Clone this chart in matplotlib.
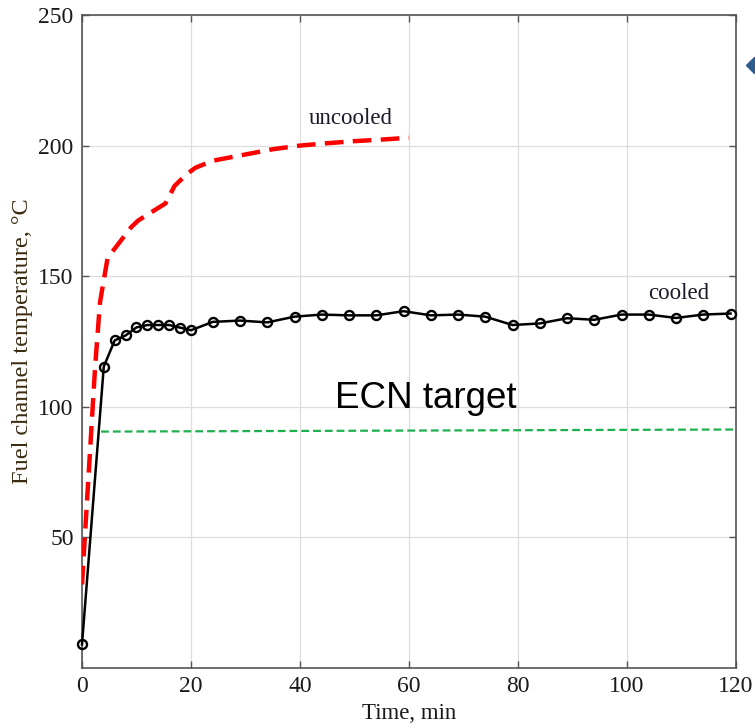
import matplotlib
matplotlib.use("Agg")
import matplotlib.pyplot as plt

# ── Data ────────────────────────────────────────────────────
cooled_t = [0, 4, 6, 8, 10, 12, 14, 16, 18, 20, 24, 29, 34, 39, 44, 49, 54, 59,
            64, 69, 74, 79, 84, 89, 94, 99, 104, 109, 114, 119]
cooled_T = [9, 115.4, 125.4, 127.3, 130.4, 131.3, 131.3, 131.3, 130.3, 129.3,
            132.5, 133.0, 132.3, 134.5, 135.3, 135.0, 135.0, 136.6, 135.0, 135.3,
            134.5, 131.3, 131.9, 133.9, 133.3, 135.3, 135.3, 134.0, 135.3, 135.7]

uncooled_t = [0, 2.4, 3.3, 4.7, 9, 10.3, 14.5, 15.3, 17, 19.2, 20.8, 24, 30,
              35, 40, 45, 50, 55, 60]
uncooled_T = [32, 115, 140, 157, 168.7, 171.3, 176.8, 177.8, 184.6, 189, 191.5,
              194.2, 196.6, 198.6, 200, 200.9, 201.7, 202.3, 203]

target_t = [3.5, 120]
target_T = [90.5, 91.3]

xticks = [0, 20, 40, 60, 80, 100, 120]
yticks = [50, 100, 150, 200, 250]

SERIF = ["Liberation Serif", "DejaVu Serif"]

fig = plt.figure(figsize=(7.55, 7.27), dpi=100, facecolor="white")
ax = fig.add_axes([0.1086, 0.0812, 0.8662, 0.8982])

ax.plot(uncooled_t, uncooled_T, color="#ff0000", lw=3.2, ls=(0, (4.2, 2.1)),
        solid_capstyle="butt", zorder=3)
ax.plot(cooled_t, cooled_T, color="black", lw=1.8, marker="o", ms=6.5,
        mfc="none", mec="black", mew=1.7, zorder=4, clip_on=False)
ax.plot(target_t, target_T, color="#1db04f", lw=1.6, ls=(0, (3.5, 1.8)), zorder=3)

ax.text(49.4, 210.5, "uncooled", family=SERIF, fontsize=16.5,
        color="#1a1a2a", ha="center", va="center")
ax.text(109.5, 143.5, "cooled", family=SERIF, fontsize=16.5,
        color="#1a1a2a", ha="center", va="center")
ax.text(63, 103, "ECN target", family=["Liberation Sans", "DejaVu Sans"],
        fontsize=26.5, color="black", ha="center", va="center")

ax.set_xlim(0, 120)
ax.set_ylim(0, 250)
ax.set_xticks(xticks)
ax.set_yticks(yticks)
ax.tick_params(direction="in", top=True, right=True, length=5, width=1,
               color="#555555", labelsize=17, pad=6)
for lab in ax.get_xticklabels() + ax.get_yticklabels():
    lab.set_family(SERIF)
    lab.set_color("#1a1a1a")
ax.grid(True, color="#dddddd", lw=0.9)
ax.set_axisbelow(True)
for sp in ax.spines.values():
    sp.set_color("#555555")
    sp.set_linewidth(1.2)

ax.set_xlabel("Time, min", family=SERIF, fontsize=16.5, color="#1a1a1a", labelpad=4)
ax.set_ylabel("Fuel channel temperature, °C", family=SERIF, fontsize=17.5,
              color="#3a2a10", labelpad=4)

# small clipped marker at the right edge of the slide
fig.add_artist(plt.Line2D([0.9985], [1 - 65 / 727], marker="D", ms=8,
                          color="#2f5b8f", transform=fig.transFigure))

fig.savefig("out.png", dpi=100, facecolor="white")
